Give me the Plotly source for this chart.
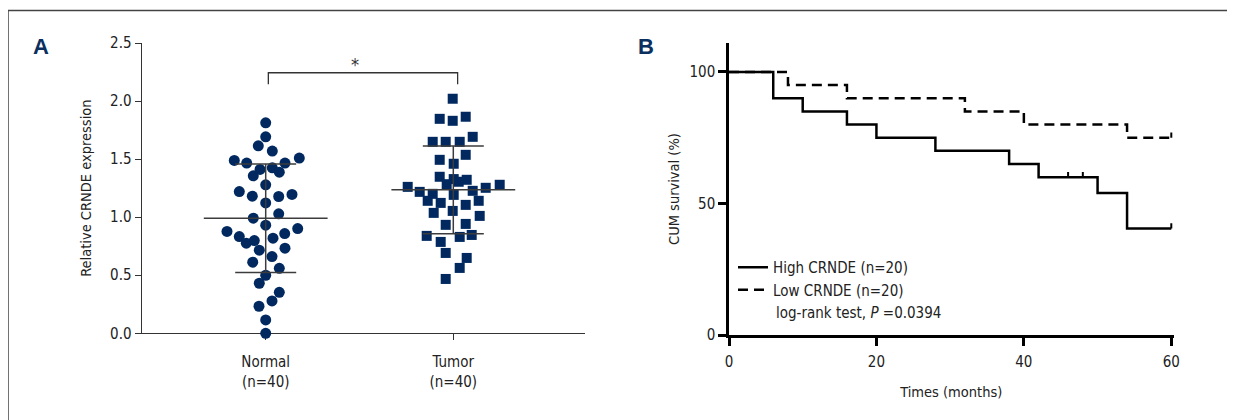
import plotly.graph_objects as go

# ---------------- Data: panel A (relative CRNDE expression) ----------------
categories = ["Normal", "Tumor"]
category_labels = ["Normal<br>(n=40)", "Tumor<br>(n=40)"]

normal_values = [1.813, 1.692, 1.615, 1.569, 1.489, 1.466, 1.509, 1.466, 1.411, 1.425,
                 1.356, 1.388, 1.279, 1.221, 1.181, 1.178, 1.196, 1.123, 0.991, 1.029,
                 0.931, 0.877, 0.902, 0.833, 0.799, 0.776, 0.859, 0.819, 0.716, 0.733,
                 0.661, 0.612, 0.560, 0.500, 0.431, 0.353, 0.279, 0.233, 0.115, 0.000]
tumor_values = [2.020, 1.847, 1.830, 1.865, 1.692, 1.649, 1.649, 1.649, 1.537, 1.494,
                1.460, 1.348, 1.328, 1.322, 1.284, 1.305, 1.261, 1.279, 1.218, 1.253,
                1.201, 1.227, 1.192, 1.141, 1.123, 1.141, 1.106, 1.037, 1.054, 1.011,
                0.934, 0.942, 0.839, 0.830, 0.847, 0.787, 0.692, 0.649, 0.563, 0.468]
group_means = [0.991, 1.236]
group_sds = [0.468, 0.378]
significance = "*"

# beeswarm horizontal offsets (pixels) -- layout only
normal_jitter_px = [0, 0, -7.4, 6.6, -31.4, -19, 33.6, 19.3, -5.7, 6.6,
                    -12.4, 13.6, 0, -26.4, -13.4, 13, 26.3, 0, -12.4, 13,
                    0, -38.7, 32, -26.4, -11.4, -19.4, 19, 7.3, -6.4, 19.3,
                    6.3, -13, 13.6, 0, -6.4, 13.6, 6.3, -6.7, 0, 0]
tumor_jitter_px = [-0.6, -13.6, -0.6, 12.4, 19.4, -20.6, -7.6, 6.4, 12.4, -13.6,
                   0.4, -13.6, 0.4, 13.4, -6.6, 5.4, -45.6, 46.4, -33.6, 32.4,
                   -20.6, 19.4, 0.4, -25.6, -12.6, 25.4, 12.4, -19.6, -0.6, 26.4,
                   -7.6, 12.4, -26.6, 6.4, 18.4, -12.6, -7.6, 13.4, 6.4, -7.6]

# ---------------- Data: panel B (Kaplan-Meier) ----------------
high_times = [0, 6, 10, 16, 20, 28, 38, 42, 50, 54, 60]
high_surv = [100, 90, 85, 80, 75, 70, 65, 60, 54, 40.5, 40.5]
high_censor_times = [46, 48, 60]
high_censor_surv = [60, 60, 40.5]

low_times = [0, 8, 16, 32, 40, 54, 60]
low_surv = [100, 95, 90, 85, 80, 75, 75]
low_censor_times = [60]
low_censor_surv = [75]

logrank_p = "0.0394"

# ---------------- Layout geometry ----------------
W, H = 1235, 420
OFF = 8  # page body margin offset
FONT = "Liberation Sans Narrow, DejaVu Sans Condensed, Arial Narrow, sans-serif"
TXT = "#222222"
NAVY = "#01295f"

A_left, A_right, A_top, A_bottom = 141.7, 585.0, 43.0, 333.3
A_xrange = [-0.661, 1.702]
px_per_cat = (A_right - A_left) / (A_xrange[1] - A_xrange[0])

B_left, B_right, B_top, B_bottom = 729.0, 1173.5, 43.0, 335.0

def px2paper_x(px):
    return (px - OFF) / W

def px2paper_y(py):
    return 1 - (py - OFF) / H

fig = go.Figure()

# panel A scatter
fig.add_trace(go.Scatter(
    x=[0 + j / px_per_cat for j in normal_jitter_px], y=normal_values,
    mode="markers", marker=dict(symbol="circle", size=11, color=NAVY),
    xaxis="x", yaxis="y", cliponaxis=False, showlegend=False, name=categories[0]))
fig.add_trace(go.Scatter(
    x=[1 + j / px_per_cat for j in tumor_jitter_px], y=tumor_values,
    mode="markers", marker=dict(symbol="square", size=10, color=NAVY),
    xaxis="x", yaxis="y", cliponaxis=False, showlegend=False, name=categories[1]))

LINEGRAY = "#3c3c3c"
for i in range(2):
    fig.add_trace(go.Scatter(
        x=[i - 0.33, i + 0.33], y=[group_means[i], group_means[i]],
        mode="lines", line=dict(color=LINEGRAY, width=1.5),
        xaxis="x", yaxis="y", showlegend=False, hoverinfo="skip"))
    fig.add_trace(go.Scatter(
        x=[i], y=[group_means[i]], mode="markers",
        marker=dict(size=1, color="rgba(0,0,0,0)"),
        error_y=dict(type="data", array=[group_sds[i]], visible=True,
                     width=30.5, thickness=1.5, color=LINEGRAY),
        xaxis="x", yaxis="y", showlegend=False, hoverinfo="skip"))

# significance bracket
fig.add_trace(go.Scatter(
    x=[0.014, 0.014, 1.023, 1.023], y=[2.144, 2.244, 2.244, 2.144],
    mode="lines", line=dict(color="#333333", width=1.3),
    xaxis="x", yaxis="y", showlegend=False, hoverinfo="skip"))

# panel B KM curves
fig.add_trace(go.Scatter(
    x=high_times, y=high_surv, mode="lines", line=dict(color="black", width=2.5, shape="hv"),
    name="High CRNDE (n=20)", xaxis="x2", yaxis="y2"))
fig.add_trace(go.Scatter(
    x=low_times, y=low_surv, mode="lines",
    line=dict(color="black", width=2.5, shape="hv", dash="10px,6px"),
    name="Low CRNDE (n=20)", xaxis="x2", yaxis="y2"))

def censor_path(ts, ss, h=2.0):
    xs, ys = [], []
    for t, s in zip(ts, ss):
        xs += [t, t, None]
        ys += [s, s + h, None]
    return xs, ys

for ts, ss in [(high_censor_times, high_censor_surv), (low_censor_times, low_censor_surv)]:
    cx, cy = censor_path(ts, ss)
    fig.add_trace(go.Scatter(x=cx, y=cy, mode="lines", line=dict(color="black", width=2),
                             xaxis="x2", yaxis="y2", showlegend=False, hoverinfo="skip"))

tick_font = dict(family=FONT, size=15, color=TXT)
title_font = dict(family=FONT, size=14.5, color=TXT)

fig.update_layout(
    width=W, height=H,
    margin=dict(l=0, r=0, t=0, b=0, autoexpand=False),
    paper_bgcolor="white", plot_bgcolor="white",
    font=dict(family=FONT, size=15, color=TXT),
    xaxis=dict(
        domain=[px2paper_x(A_left), px2paper_x(A_right)], range=A_xrange,
        tickvals=[0, 1], ticktext=category_labels, tickfont=tick_font,
        showline=True, linecolor="#333333", linewidth=1.3,
        ticks="outside", ticklen=6, tickwidth=1.3, tickcolor="#333333",
        ticklabelstandoff=9,
        showgrid=False, zeroline=False, layer="below traces", anchor="y",
        automargin=False),
    yaxis=dict(
        domain=[px2paper_y(A_bottom), px2paper_y(A_top)], range=[0, 2.5],
        tickvals=[0, 0.5, 1.0, 1.5, 2.0, 2.5], tickformat=".1f", tickfont=tick_font,
        showline=True, linecolor="#333333", linewidth=1.3,
        ticks="outside", ticklen=6, tickwidth=1.3, tickcolor="#333333",
        showgrid=False, zeroline=False, layer="below traces", anchor="x",
        automargin=False,
        title=dict(text="Relative CRNDE expression", font=title_font, standoff=15)),
    xaxis2=dict(
        domain=[px2paper_x(B_left), px2paper_x(B_right)], range=[0, 60.3],
        tickvals=[0, 20, 40, 60], tickfont=tick_font,
        showline=True, linecolor="black", linewidth=2.5,
        ticks="outside", ticklen=8, tickwidth=2.5, tickcolor="black",
        ticklabelstandoff=3,
        showgrid=False, zeroline=False, anchor="y2", automargin=False,
        title=dict(text="Times (months)", font=title_font, standoff=18)),
    yaxis2=dict(
        domain=[px2paper_y(B_bottom), px2paper_y(B_top)], range=[0, 111],
        tickvals=[0, 50, 100], tickfont=tick_font,
        showline=True, linecolor="black", linewidth=2.5,
        ticks="outside", ticklen=8, tickwidth=2.5, tickcolor="black",
        showgrid=False, zeroline=False, anchor="x2", automargin=False,
        title=dict(text="CUM survival (%)", font=title_font, standoff=7)),
    legend=dict(
        x=px2paper_x(733), y=px2paper_y(251), xanchor="left", yanchor="top",
        bgcolor="rgba(0,0,0,0)", font=dict(family=FONT, size=15, color=TXT),
        itemwidth=30, tracegroupgap=0),
    showlegend=True,
)

annotations = [
    dict(text="<b>A</b>", x=px2paper_x(41), y=px2paper_y(46), xref="paper", yref="paper",
         showarrow=False, font=dict(family="Liberation Sans, Arial, sans-serif", size=22, color="#0b2f5f"),
         xanchor="center", yanchor="middle"),
    dict(text="<b>B</b>", x=px2paper_x(646), y=px2paper_y(46), xref="paper", yref="paper",
         showarrow=False, font=dict(family="Liberation Sans, Arial, sans-serif", size=22, color="#0b2f5f"),
         xanchor="center", yanchor="middle"),
    dict(text=significance, x=0.476, y=2.244, xref="x", yref="y", showarrow=False,
         font=dict(family=FONT, size=18, color="#333333"), xanchor="center", yanchor="bottom", yshift=-4),
    dict(text=f"log-rank test, <i>P</i> ={logrank_p}", x=px2paper_x(774), y=px2paper_y(313),
         xref="paper", yref="paper", showarrow=False, font=dict(family=FONT, size=15, color=TXT),
         xanchor="left", yanchor="middle"),
]
fig.update_layout(annotations=annotations)

fig.update_layout(shapes=[
    dict(type="rect", xref="paper", yref="paper",
         x0=px2paper_x(8), x1=1.05, y0=-0.1, y1=px2paper_y(10.5),
         line=dict(color="#444444", width=1.5), fillcolor="rgba(0,0,0,0)", layer="below"),
])

fig.write_html("out.html")
